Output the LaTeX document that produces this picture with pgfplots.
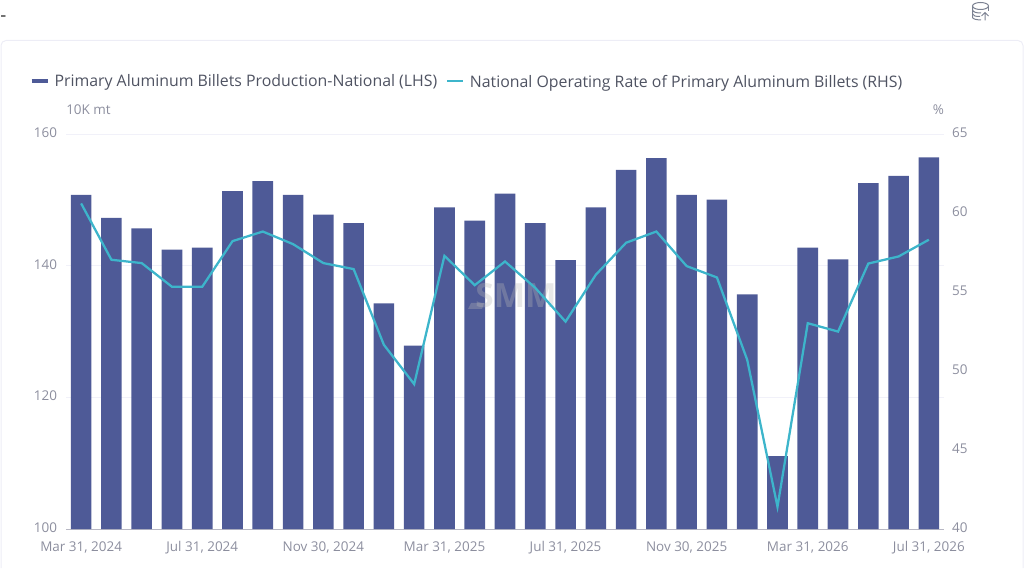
\documentclass[border=0pt]{standalone}
\usepackage{fontspec}
\setmainfont{Open Sans}
\usepackage{pgfplots}
\pgfplotsset{compat=1.18}
\usepackage{pgfplotstable}
\definecolor{barcol}{HTML}{4E5A97}
\definecolor{linecol}{HTML}{3DB5CB}
\definecolor{gridcol}{HTML}{F1F1F9}
\definecolor{axiscol}{HTML}{B8B8C4}
\definecolor{labelcol}{HTML}{8C8E9E}
\definecolor{legcol}{HTML}{4F5362}
\definecolor{framecol}{HTML}{EDEDF6}
\definecolor{iconcol}{HTML}{7C8292}

% month index, production (10K mt), operating rate (%)
\pgfplotstableread{
idx prod rate
0  150.8 60.63
1  147.3 57.06
2  145.7 56.85
3  142.5 55.35
4  142.8 55.35
5  151.4 58.24
6  152.9 58.85
7  150.8 58.05
8  147.8 56.85
9  146.5 56.47
10 134.3 51.67
11 127.9 49.18
12 148.9 57.31
13 146.9 55.45
14 151.0 56.95
15 146.5 55.28
16 140.9 53.14
17 148.9 56.11
18 154.6 58.14
19 156.4 58.85
20 150.8 56.66
21 150.1 55.94
22 135.7 50.72
23 111.1 41.41
24 142.8 53.04
25 141.0 52.51
26 152.6 56.82
27 153.7 57.27
28 156.5 58.33
}\billets

\pgfplotsset{
  common/.style={
    scale only axis, width=658.5pt, height=295.9pt,
    at={(49.5pt,29.25pt)}, anchor=south west,
    xmin=-0.5, xmax=28.5,
    major tick length=0pt,
    tick label style={font=\fontsize{10.1pt}{12pt}\selectfont, text=labelcol},
    /pgf/number format/assume math mode=true,
  },
}

\begin{document}
\begin{tikzpicture}
\useasboundingbox (0,0) rectangle (768pt,426pt);
\begin{scope}[shift={(0,426pt)},x=0.75pt,y=-0.75pt]
  \draw[framecol,line width=0.75pt,rounded corners=3.75pt] (1,568) -- (1,40.5) -- (1023,40.5) -- (1023,568);
  \node[anchor=center,text=black!80,font=\fontsize{14pt}{16pt}\selectfont] at (3.5,18.5) {-};
  % export icon
  \begin{scope}[iconcol,line width=0.75pt]
    \draw (980.5,6) ellipse[x radius=8,y radius=3.5];
    \draw (972.5,6) -- (972.5,17.5) .. controls (973,19) and (976,19.8) .. (981,20);
    \draw (972.5,10) .. controls (973,12) and (976,13) .. (981,13);
    \draw (972.5,14) .. controls (973,16) and (976,16.5) .. (980,16.5);
    \draw (988.5,6) -- (988.5,11);
    \draw (985,20.5) -- (985,12.5) (981.5,16) -- (985,12.5) -- (988.5,16);
  \end{scope}
\end{scope}

\begin{axis}[common,
  ymin=100, ymax=160, ytick={100,120,140,160},
  xtick={0,4,...,28},
  xticklabels={{Mar 31, 2024},{Jul 31, 2024},{Nov 30, 2024},{Mar 31, 2025},{Jul 31, 2025},{Nov 30, 2025},{Mar 31, 2026},{Jul 31, 2026}},
  axis x line*=bottom, axis y line*=left,
  y axis line style={draw=none},
  x axis line style={draw=axiscol,line width=0.75pt},
  ymajorgrids, grid style={gridcol,line width=0.75pt},
  yticklabel style={xshift=-3.2pt,yshift=1pt},
  xticklabel style={yshift=-6pt},
  legend columns=2,
  legend style={at={(-0.0413,1.1356)},anchor=west,draw=none,fill=none,inner sep=0pt,
    font=\fontsize{11.9pt}{14pt}\selectfont,text=legcol,
    /tikz/every even column/.append style={column sep=6.7pt},
    /tikz/every odd column/.append style={column sep=4.0pt},
    nodes={inner sep=0pt,text depth=0pt}},
  legend image code/.code={\draw[#1] (0pt,0pt) -- (12pt,0pt);},
]
\addlegendimage{barcol,line width=2.4pt}
\addlegendentry{Primary Aluminum Billets Production-National (LHS)}
\addlegendimage{linecol,line width=1.8pt}
\addlegendentry{National Operating Rate of Primary Aluminum Billets (RHS)}
\addplot[ybar,bar width=15.45pt,fill=barcol,draw=none,forget plot] table[x=idx,y=prod] {\billets};
\end{axis}

\begin{scope}[shift={(0,426pt)},x=0.75pt,y=-0.75pt]
  % watermark
  \node[anchor=center,text=gray!55,opacity=0.32,font=\bfseries\fontsize{25pt}{27pt}\selectfont] at (516,296) {SMM};
  \fill[gray!55,opacity=0.32] (468,309) -- (471,303) -- (484,303) -- (482,309) -- cycle;
  \node[anchor=center,text=labelcol] at (88.5,109.5) {\fontsize{10.1pt}{12pt}\selectfont 10K mt};
  \node[anchor=center,text=labelcol] at (938.5,109.5) {\fontsize{10.1pt}{12pt}\selectfont \%};
\end{scope}

\begin{axis}[common,
  ymin=40, ymax=65, ytick={40,45,...,65},
  axis x line=none,
  axis y line*=right,
  y axis line style={draw=none},
  yticklabel style={xshift=2.6pt,yshift=1pt},
]
\addplot[linecol,line width=1.7pt,line join=miter] table[x=idx,y=rate] {\billets};
\end{axis}
\end{tikzpicture}
\end{document}
